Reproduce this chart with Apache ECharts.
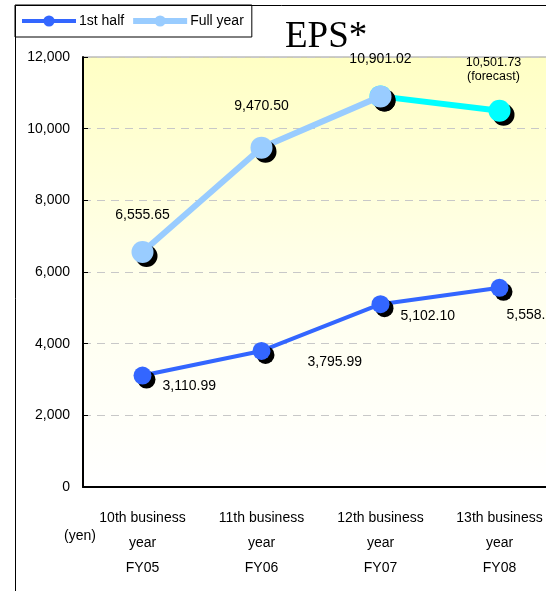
<!DOCTYPE html>
<html>
<head>
<meta charset="utf-8">
<script src="https://cdn.jsdelivr.net/npm/echarts@6/dist/echarts.min.js"></script>
<style>html,body{margin:0;padding:0;background:#fff}#c{width:546px;height:591px}</style>
</head>
<body>
<div id="c"></div>
<script>
const categories = ['10th business\nyear\nFY05', '11th business\nyear\nFY06', '12th business\nyear\nFY07', '13th business\nyear\nFY08'];
const firstHalf = [3110.99, 3795.99, 5102.10, 5558.20];
const fullYear = [6555.65, 9470.50, 10901.02, 10501.73];
const firstHalfLabels = ['3,110.99', '3,795.99', '5,102.10', '5,558.20'];
const fullYearLabels = ['6,555.65', '9,470.50', '10,901.02', '10,501.73\n(forecast)'];
const yTicks = { min: 0, max: 12000, interval: 2000 };

const font = 'Liberation Sans, Arial, sans-serif';
const shadow = { shadowColor: '#000', shadowBlur: 0, shadowOffsetX: 4, shadowOffsetY: 4 };

const fhOffsets = [[6, 11], [32, 11], [6, 12], [-7, 27]];
const fyOffsets = [[0, -14], [0, -18], [0, -14], [-6, -11]];

const chart = echarts.init(document.getElementById('c'), null, { renderer: 'canvas' });
chart.setOption({
  animation: false,
  textStyle: { fontFamily: font },
  title: {
    text: 'EPS*', left: 280, top: 14,
    textStyle: { fontFamily: 'Liberation Serif, Times New Roman, serif', fontSize: 37, fontWeight: 'normal', color: '#000' }
  },
  legend: {
    left: 15, top: 5, orient: 'horizontal',
    borderColor: '#000', borderWidth: 1, padding: [9, 8, 9, 5],
    itemWidth: 54, itemHeight: 14, itemGap: 6,
    textStyle: { fontSize: 14, color: '#000', padding: [0, 0, 0, -2] },
    data: [
      { name: '1st half', lineStyle: { width: 4 }, itemStyle: { shadowOffsetX: 0, shadowOffsetY: 0 } },
      { name: 'Full year', lineStyle: { width: 6 }, itemStyle: { shadowOffsetX: 0, shadowOffsetY: 0 } }
    ]
  },
  grid: {
    left: 83, top: 57, width: 476, height: 430,
    outerBoundsMode: 'none', containLabel: false,
    show: true, borderColor: '#999', borderWidth: 1,
    backgroundColor: new echarts.graphic.LinearGradient(0, 0, 0, 1, [
      { offset: 0, color: '#ffffc4' }, { offset: 0.55, color: '#ffffee' }, { offset: 1, color: '#ffffff' }
    ])
  },
  xAxis: {
    type: 'category', data: categories, boundaryGap: true,
    axisLine: { lineStyle: { color: '#000', width: 2 } },
    axisTick: { inside: true, length: 5, lineStyle: { color: '#000' } },
    axisLabel: { color: '#000', fontSize: 14, lineHeight: 25, margin: 19 }
  },
  yAxis: {
    type: 'value', min: yTicks.min, max: yTicks.max, interval: yTicks.interval,
    axisLine: { show: true, lineStyle: { color: '#000', width: 2 } },
    axisTick: { show: true, inside: true, length: 5, lineStyle: { color: '#000' } },
    axisLabel: { color: '#000', fontSize: 14, margin: 13,
      formatter: v => v.toLocaleString('en-US') },
    splitLine: { lineStyle: { color: '#c8c8c8', type: [8, 6], width: 1 } }
  },
  graphic: [
    { type: 'rect', shape: { x: 15.5, y: 5.5, width: 700, height: 700 }, style: { fill: 'none', stroke: '#000', lineWidth: 1 }, silent: true, z: -10 },
    { type: 'text', left: 64, top: 529, style: { text: '(yen)', fontSize: 14, fill: '#000', fontFamily: font } }
  ],
  series: [
    {
      name: 'Forecast', type: 'line', z: 2,
      data: [null, null, fullYear[2], { value: fullYear[3],
        label: { show: true, position: 'top', offset: fyOffsets[3], formatter: fullYearLabels[3], fontSize: 12.5, lineHeight: 14, color: '#000' } }],
      symbol: 'circle', symbolSize: 22,
      showSymbol: true,
      lineStyle: { color: '#00ffff', width: 6 },
      itemStyle: Object.assign({ color: '#00ffff' }, shadow),
      legendHoverLink: false
    },
    {
      name: 'Full year', type: 'line', z: 3,
      data: fullYear.map((v, i) => ({
        value: i < 3 ? v : null,
        label: { show: true, position: 'top', offset: fyOffsets[i], formatter: fullYearLabels[i], fontSize: 14, color: '#000' }
      })),
      symbol: 'circle', symbolSize: 22,
      lineStyle: { color: '#99ccff', width: 6 },
      itemStyle: Object.assign({ color: '#99ccff' }, shadow)
    },
    {
      name: '1st half', type: 'line', z: 5,
      data: firstHalf.map((v, i) => ({
        value: v,
        label: { show: true, position: 'right', offset: fhOffsets[i], formatter: firstHalfLabels[i], fontSize: 14, color: '#000' }
      })),
      symbol: 'circle', symbolSize: 18,
      lineStyle: { color: '#3366ff', width: 4 },
      itemStyle: Object.assign({ color: '#3366ff' }, shadow)
    }
  ]
});
</script>
</body>
</html>
